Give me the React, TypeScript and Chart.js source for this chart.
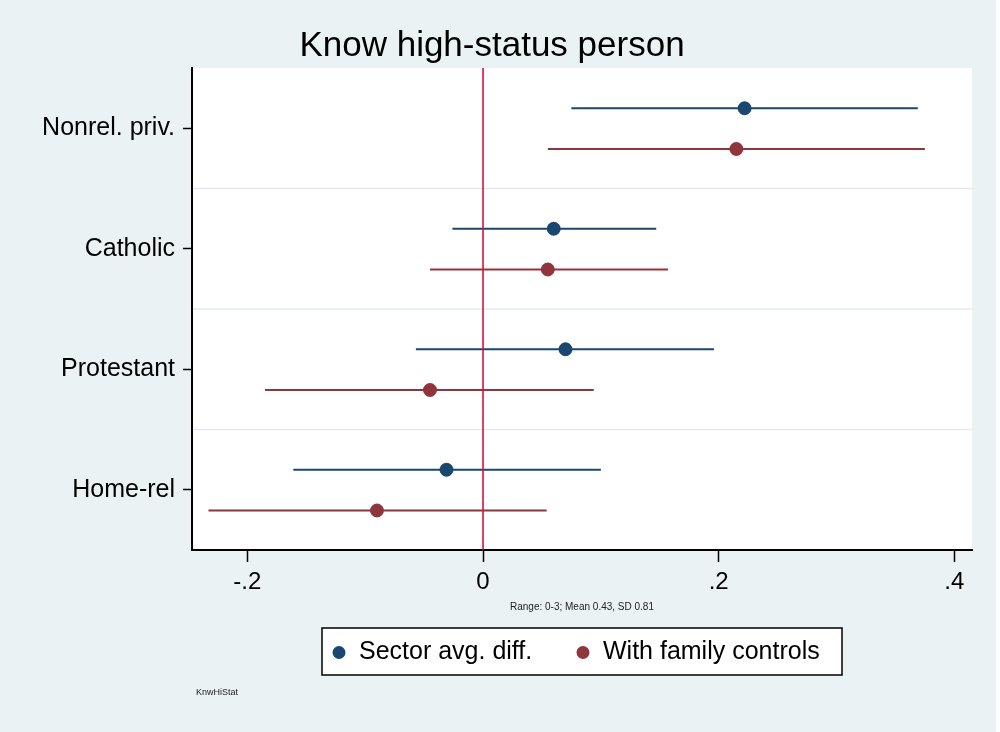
import React, { useEffect, useRef } from "react";
import { Chart, registerables } from "chart.js";

Chart.register(...registerables);

const categories = ["Nonrel. priv.", "Catholic", "Protestant", "Home-rel"];
const sectorEst = [0.222, 0.06, 0.07, -0.031];
const sectorLo = [0.075, -0.026, -0.057, -0.161];
const sectorHi = [0.369, 0.147, 0.196, 0.1];
const famEst = [0.215, 0.055, -0.045, -0.09];
const famLo = [0.055, -0.045, -0.185, -0.233];
const famHi = [0.375, 0.157, 0.094, 0.054];
const xTicks = [-0.2, 0, 0.2, 0.4];
const xTickLabels = ["-.2", "0", ".2", ".4"];
const seriesLabels = ["Sector avg. diff.", "With family controls"];
const titleText = "Know high-status person";
const noteText = "Range: 0-3; Mean 0.43, SD 0.81";
const captionText = "KnwHiStat";

const BLUE = "#1A476F";
const RED = "#90353B";
const ZERO = "#D0143E";
const BG = "#EAF2F3";
const GRID = "#E3EAED";
const FONT = "'Liberation Sans', Arial, Helvetica, sans-serif";
const OFF_A = -0.166;
const OFF_B = 0.172;

function ciData(lo: number[], hi: number[], off: number) {
  const out: { x: number; y: number }[] = [];
  lo.forEach((l, i) => {
    out.push({ x: l, y: i + 1 + off });
    out.push({ x: hi[i], y: i + 1 + off });
    out.push({ x: NaN, y: NaN });
  });
  return out;
}

function ptData(est: number[], off: number) {
  return est.map((v, i) => ({ x: v, y: i + 1 + off }));
}

const decorPlugin = {
  id: "decor",
  beforeDraw(chart: any) {
    const { ctx, chartArea, width, height } = chart;
    ctx.save();
    ctx.fillStyle = "#FFFFFF";
    ctx.fillRect(0, 0, width, height);
    ctx.fillStyle = BG;
    ctx.fillRect(0, 0, 996, height);
    ctx.fillStyle = "#FFFFFF";
    ctx.fillRect(chartArea.left, chartArea.top, chartArea.right - chartArea.left, chartArea.bottom - chartArea.top);
    const ys = chart.scales.y;
    ctx.strokeStyle = GRID;
    ctx.lineWidth = 1.5;
    for (let i = 1; i < categories.length; i++) {
      const py = ys.getPixelForValue(i + 0.5);
      ctx.beginPath();
      ctx.moveTo(chartArea.left, py);
      ctx.lineTo(chartArea.right, py);
      ctx.stroke();
    }
    ctx.restore();
  },
  afterDatasetsDraw(chart: any) {
    const { ctx, chartArea } = chart;
    const xs = chart.scales.x;
    ctx.save();
    const px = xs.getPixelForValue(0);
    ctx.strokeStyle = ZERO;
    ctx.lineWidth = 1.6;
    ctx.beginPath();
    ctx.moveTo(px, chartArea.top);
    ctx.lineTo(px, chartArea.bottom);
    ctx.stroke();
    chart.data.datasets.forEach((ds: any, i: number) => {
      if (ds.isPoint) {
        const meta = chart.getDatasetMeta(i);
        meta.data.forEach((el: any) => el.draw(ctx, chartArea));
      }
    });
    ctx.restore();
  },
  afterDraw(chart: any) {
    const { ctx, chartArea } = chart;
    ctx.save();
    ctx.fillStyle = "#000";
    ctx.textAlign = "center";
    ctx.textBaseline = "alphabetic";
    ctx.font = `35px ${FONT}`;
    ctx.fillText(titleText, 492, 56);

    ctx.font = `10px ${FONT}`;
    ctx.fillStyle = "#222";
    ctx.fillText(noteText, (chartArea.left + chartArea.right) / 2, 610);

    ctx.textAlign = "left";
    ctx.font = `9px ${FONT}`;
    ctx.fillText(captionText, 196, 695);

    const bx = 322, by = 628, bw = 520, bh = 47;
    ctx.fillStyle = "#FFFFFF";
    ctx.fillRect(bx, by, bw, bh);
    ctx.strokeStyle = "#000";
    ctx.lineWidth = 1.5;
    ctx.strokeRect(bx, by, bw, bh);
    const cy = by + bh / 2 + 1;
    const entries = chart.data.datasets.filter((d: any) => d.isPoint);
    const xsMarker = [339, 583];
    entries.forEach((d: any, i: number) => {
      ctx.fillStyle = d.backgroundColor;
      ctx.beginPath();
      ctx.arc(xsMarker[i], cy, 6.5, 0, Math.PI * 2);
      ctx.fill();
      ctx.fillStyle = "#000";
      ctx.font = `25px ${FONT}`;
      ctx.textBaseline = "middle";
      ctx.fillText(d.label, xsMarker[i] + 20, cy);
    });
    ctx.restore();
  },
};

export default function App() {
  const ref = useRef<HTMLCanvasElement | null>(null);
  useEffect(() => {
    document.body.style.margin = "0";
    if (!ref.current) return;
    const chart = new Chart(ref.current, {
      type: "scatter",
      data: {
        datasets: [
          {
            label: seriesLabels[0] + " CI",
            data: ciData(sectorLo, sectorHi, OFF_A),
            showLine: true,
            borderColor: BLUE,
            borderWidth: 2,
            pointRadius: 0,
            spanGaps: false,
            order: 2,
          } as any,
          {
            label: seriesLabels[1] + " CI",
            data: ciData(famLo, famHi, OFF_B),
            showLine: true,
            borderColor: RED,
            borderWidth: 2,
            pointRadius: 0,
            spanGaps: false,
            order: 2,
          } as any,
          {
            label: seriesLabels[0],
            isPoint: true,
            data: ptData(sectorEst, OFF_A),
            backgroundColor: BLUE,
            borderColor: BLUE,
            borderWidth: 0.5,
            pointRadius: 6.5,
            order: 1,
          } as any,
          {
            label: seriesLabels[1],
            isPoint: true,
            data: ptData(famEst, OFF_B),
            backgroundColor: RED,
            borderColor: RED,
            borderWidth: 0.5,
            pointRadius: 6.5,
            order: 1,
          } as any,
        ],
      },
      options: {
        responsive: false,
        animation: false,
        devicePixelRatio: 1,
        layout: { padding: { left: 0, top: 68, right: 28, bottom: 132 } },
        plugins: { legend: { display: false }, tooltip: { enabled: false }, title: { display: false } },
        scales: {
          x: {
            type: "linear",
            min: -0.247,
            max: 0.415,
            afterBuildTicks: (s: any) => {
              s.ticks = xTicks.map((v) => ({ value: v }));
            },
            afterFit: (s: any) => {
              s.height = 50;
            },
            ticks: {
              callback: (v: any) => {
                const i = xTicks.findIndex((t) => Math.abs(t - Number(v)) < 1e-9);
                return i >= 0 ? xTickLabels[i] : "";
              },
              color: "#000",
              font: { size: 24, family: FONT },
              padding: 6,
              maxRotation: 0,
            },
            grid: { drawOnChartArea: false, tickLength: 12, tickColor: "#000", tickWidth: 1.5 },
            border: { color: "#000", width: 2 },
          },
          y: {
            type: "linear",
            min: 0.5,
            max: 4.5,
            reverse: true,
            afterBuildTicks: (s: any) => {
              s.ticks = categories.map((_, i) => ({ value: i + 1 }));
            },
            afterFit: (s: any) => {
              s.width = 192;
            },
            ticks: {
              callback: (v: any) => categories[Math.round(Number(v)) - 1] ?? "",
              color: "#000",
              font: { size: 25, family: FONT },
              padding: 8,
            },
            grid: { drawOnChartArea: false, tickLength: 9, tickColor: "#000", tickWidth: 1.5 },
            border: { color: "#000", width: 2 },
          },
        },
      } as any,
      plugins: [decorPlugin as any],
    });
    return () => chart.destroy();
  }, []);
  return (
    <div style={{ position: "absolute", left: 0, top: 0, width: 1000, height: 732 }}>
      <canvas ref={ref} width={1000} height={732} style={{ display: "block", width: 1000, height: 732 }} />
    </div>
  );
}
